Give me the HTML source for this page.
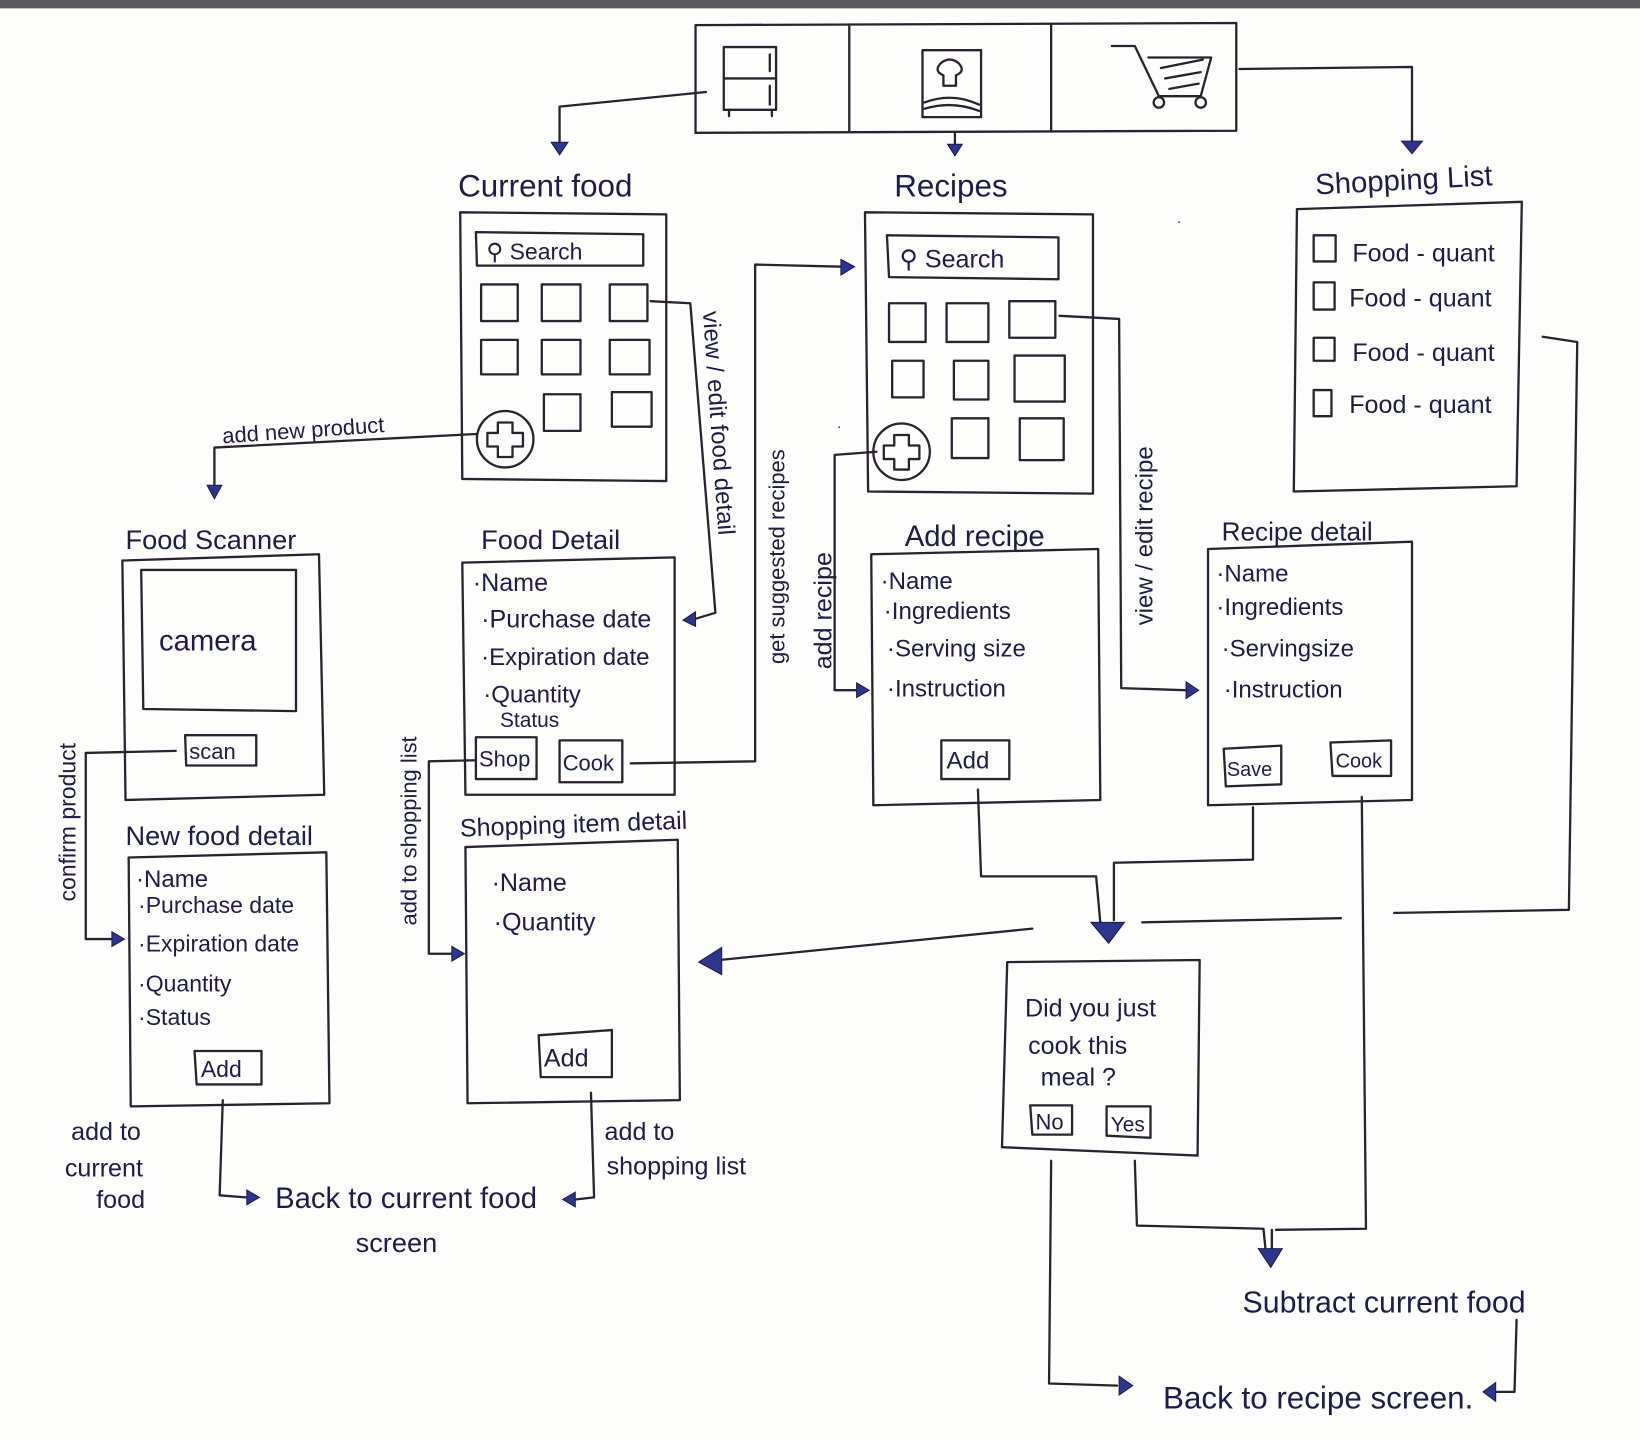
<!DOCTYPE html>
<html><head><meta charset="utf-8"><style>
html,body{margin:0;padding:0;background:#fdfdfb;}
svg{display:block}
text{font-family:"Liberation Sans",sans-serif;fill:#1c1c4e;}
.l{fill:none;stroke:#2a2230;stroke-width:2.2;stroke-linecap:round;stroke-linejoin:round}
.a{fill:#2b3590;stroke:#1c1c4e;stroke-width:1}
</style></head><body>
<svg width="1640" height="1440" viewBox="0 0 1568 1377" preserveAspectRatio="none" xmlns="http://www.w3.org/2000/svg">
<rect x="0" y="0" width="1568" height="1377" fill="#fdfdfb"/>
<rect x="0" y="0" width="1568" height="8" fill="#5a5a5e"/>

<!-- tab bar -->
<path class="l" d="M665 24 L1182 22 L1182 125 L665 127 Z M812 24 L812 126 M1005 23 L1005 125"/>
<path class="l" d="M692 45 H742 V105 H692 Z M692 75 H742 M736 52 V68 M736 82 V100 M697 105 v6 M738 105 v6"/>
<path class="l" d="M882 48 H938 V112 H882 Z M884 98 Q910 88 936 100 M884 104 Q910 96 936 106 M900 60 q-8 8 2 12 v10 h12 v-10 q10 -4 2 -12 q-8 -6 -16 0"/>
<path class="l" d="M1063 44 H1085 L1108 92 H1148 L1158 55 H1098 M1110 65 l40 -8 M1114 75 l34 -6 M1118 85 l28 -5"/>
<circle class="l" cx="1108" cy="98" r="5"/><circle class="l" cx="1148" cy="98" r="5"/>

<!-- top arrows -->
<path class="l" d="M675 88 L535 102 L535 138"/><path class="a" d="M527 136 L543 136 L535 148Z"/>
<path class="l" d="M913 127 L913 140"/><path class="a" d="M906 138 L920 138 L913 149Z"/>
<path class="l" d="M1185 66 L1350 64 L1350 136"/><path class="a" d="M1340 135 L1360 135 L1350 147Z"/>

<!-- Current food -->
<text x="438" y="188" font-size="30">Current food</text>
<path class="l" d="M440 203 L637 205 L637 460 L442 458 Z"/>
<path class="l" d="M455 222 L615 224 L615 254 L456 254 Z"/>
<text x="465" y="248" font-size="22">⚲ Search</text>
<g class="l">
<rect x="460" y="272" width="35" height="35"/><rect x="518" y="272" width="37" height="35"/><rect x="583" y="272" width="36" height="35"/>
<rect x="460" y="325" width="35" height="33"/><rect x="518" y="325" width="37" height="33"/><rect x="583" y="325" width="38" height="33"/>
<rect x="520" y="377" width="35" height="35"/><rect x="585" y="375" width="38" height="33"/>
</g>
<circle class="l" cx="483" cy="420" r="27"/>
<path class="l" d="M476 404 h14 v10 h10 v13 h-10 v10 h-14 v-10 h-10 v-13 h10 Z"/>

<!-- Recipes -->
<text x="855" y="188" font-size="30">Recipes</text>
<path class="l" d="M827 203 L1045 205 L1045 472 L830 470 Z"/>
<path class="l" d="M848 225 L1012 227 L1012 267 L850 265 Z"/>
<text x="860" y="256" font-size="24">⚲ Search</text>
<g class="l">
<rect x="850" y="290" width="35" height="37"/><rect x="905" y="290" width="40" height="37"/><rect x="965" y="288" width="44" height="35"/>
<rect x="853" y="345" width="30" height="35"/><rect x="912" y="345" width="33" height="37"/><rect x="970" y="340" width="48" height="44"/>
<rect x="910" y="400" width="35" height="38"/><rect x="975" y="400" width="42" height="40"/>
</g>
<circle class="l" cx="862" cy="432" r="27"/>
<path class="l" d="M855 416 h14 v10 h10 v13 h-10 v10 h-14 v-10 h-10 v-13 h10 Z"/>

<!-- Shopping list -->
<text x="1258" y="186" font-size="28" transform="rotate(-3 1258 186)">Shopping List</text>
<path class="l" d="M1240 200 L1455 193 L1450 465 L1237 470 Z"/>
<g class="l"><rect x="1256" y="225" width="21" height="25"/><rect x="1256" y="270" width="20" height="26"/><rect x="1256" y="323" width="20" height="22"/><rect x="1256" y="373" width="17" height="25"/></g>
<text x="1293" y="250" font-size="24">Food - quant</text>
<text x="1290" y="293" font-size="24">Food - quant</text>
<text x="1293" y="345" font-size="24">Food - quant</text>
<text x="1290" y="395" font-size="24">Food - quant</text>

<!-- add new product -->
<text x="213" y="424" font-size="21" transform="rotate(-4 213 424)">add new product</text>
<path class="l" d="M455 415 L205 428 L205 465"/><path class="a" d="M198 464 L212 464 L205 477Z"/>

<!-- Food scanner -->
<text x="120" y="525" font-size="26">Food Scanner</text>
<path class="l" d="M117 536 L305 530 L310 760 L120 765 Z"/>
<path class="l" d="M135 545 L283 545 L283 680 L137 678 Z"/>
<text x="152" y="622" font-size="28">camera</text>
<path class="l" d="M177 703 L245 703 L245 732 L178 732 Z"/>
<text x="181" y="726" font-size="21">scan</text>

<!-- Food detail -->
<text x="460" y="525" font-size="26">Food  Detail</text>
<path class="l" d="M442 538 L645 533 L645 760 L445 760 Z"/>
<text x="452" y="565" font-size="24">·Name</text>
<text x="460" y="600" font-size="24">·Purchase date</text>
<text x="460" y="636" font-size="23">·Expiration date</text>
<text x="462" y="672" font-size="23">·Quantity</text>
<text x="478" y="695" font-size="20">Status</text>
<path class="l" d="M455 705 L513 705 L513 745 L455 745 Z M535 708 L595 708 L595 748 L535 748 Z"/>
<text x="458" y="733" font-size="21">Shop</text>
<text x="538" y="737" font-size="21">Cook</text>

<!-- view/edit food detail -->
<text x="672" y="298" font-size="23" transform="rotate(86 672 298)">view / edit food detail</text>
<path class="l" d="M622 288 L660 290 L684 586 L664 592"/><path class="a" d="M665 585 L665 599 L653 593Z"/>

<!-- get suggested recipes -->
<text x="750" y="635" font-size="21" transform="rotate(-90 750 635)">get suggested recipes</text>
<path class="l" d="M603 730 L722 728 L722 253 L805 255"/><path class="a" d="M804 248 L804 263 L817 255Z"/>

<!-- Add recipe -->
<text x="865" y="522" font-size="28">Add recipe</text>
<path class="l" d="M833 530 L1050 525 L1052 765 L835 770 Z"/>
<text x="842" y="563" font-size="23">·Name</text>
<text x="845" y="592" font-size="23">·Ingredients</text>
<text x="848" y="628" font-size="23">·Serving size</text>
<text x="848" y="666" font-size="23">·Instruction</text>
<path class="l" d="M900 708 L965 708 L965 745 L900 745 Z"/>
<text x="905" y="735" font-size="23">Add</text>

<!-- add recipe rotated -->
<text x="795" y="640" font-size="24" transform="rotate(-90 795 640)">add recipe</text>
<path class="l" d="M838 432 L798 435 L798 660 L820 660"/><path class="a" d="M819 653 L819 667 L831 660Z"/>

<!-- view/edit recipe -->
<text x="1102" y="598" font-size="23" transform="rotate(-90 1102 598)">view / edit recipe</text>
<path class="l" d="M1013 302 L1070 305 L1072 658 L1133 660"/><path class="a" d="M1134 652 L1134 668 L1146 660Z"/>

<!-- Recipe detail -->
<text x="1168" y="517" font-size="25">Recipe detail</text>
<path class="l" d="M1155 525 L1350 518 L1350 765 L1155 770 Z"/>
<text x="1163" y="556" font-size="23">·Name</text>
<text x="1163" y="588" font-size="23">·Ingredients</text>
<text x="1168" y="628" font-size="23">·Servingsize</text>
<text x="1170" y="667" font-size="23">·Instruction</text>
<path class="l" d="M1170 716 L1225 713 L1225 750 L1172 752 Z M1272 710 L1330 708 L1330 742 L1274 742 Z"/>
<text x="1173" y="742" font-size="19">Save</text>
<text x="1277" y="734" font-size="19">Cook</text>

<!-- shopping list -> line -->
<path class="l" d="M1475 322 L1508 327 L1500 870 L1333 873"/>

<!-- confirm product -->
<text x="72" y="862" font-size="22" transform="rotate(-90 72 862)">confirm product</text>
<path class="l" d="M168 718 L82 720 L82 898 L108 898"/><path class="a" d="M107 891 L107 905 L119 898Z"/>

<!-- New food detail -->
<text x="120" y="808" font-size="26">New food detail</text>
<path class="l" d="M123 820 L312 815 L315 1055 L125 1058 Z"/>
<text x="130" y="848" font-size="23">·Name</text>
<text x="132" y="873" font-size="22">·Purchase date</text>
<text x="132" y="910" font-size="22">·Expiration date</text>
<text x="132" y="948" font-size="22">·Quantity</text>
<text x="132" y="980" font-size="22">·Status</text>
<path class="l" d="M186 1005 L250 1005 L250 1037 L188 1037 Z"/>
<text x="192" y="1030" font-size="22">Add</text>

<!-- add to shopping list rotated -->
<text x="398" y="885" font-size="21" transform="rotate(-90 398 885)">add to shopping list</text>
<path class="l" d="M455 727 L410 728 L410 912 L433 912"/><path class="a" d="M432 905 L432 919 L444 912Z"/>

<!-- Shopping item detail -->
<text x="440" y="800" font-size="24" transform="rotate(-2 440 800)">Shopping item detail</text>
<path class="l" d="M445 810 L648 803 L650 1052 L447 1055 Z"/>
<text x="470" y="852" font-size="24">·Name</text>
<text x="472" y="890" font-size="24">·Quantity</text>
<path class="l" d="M515 990 L585 985 L585 1030 L517 1030 Z"/>
<text x="520" y="1020" font-size="24">Add</text>

<!-- arrow to shopping item detail -->
<path class="l" d="M987 888 L688 918"/><path class="a" d="M690 906 L690 932 L668 920Z"/>

<!-- recipe flows to dialog -->
<path class="l" d="M935 755 L938 838 L1048 838 L1052 882"/>
<path class="l" d="M1198 772 L1198 822 L1065 825 L1065 880"/>
<path class="a" d="M1043 882 L1075 882 L1060 902Z"/>
<path class="l" d="M1092 882 L1282 878"/>

<!-- dialog -->
<path class="l" d="M963 920 L1147 918 L1145 1105 L958 1097 Z"/>
<text x="980" y="972" font-size="24">Did you just</text>
<text x="983" y="1008" font-size="24">cook this</text>
<text x="995" y="1038" font-size="24">meal ?</text>
<path class="l" d="M985 1057 L1025 1057 L1025 1085 L987 1085 Z M1058 1058 L1100 1058 L1100 1088 L1058 1086 Z"/>
<text x="990" y="1080" font-size="21">No</text>
<text x="1062" y="1082" font-size="20">Yes</text>

<!-- to subtract -->
<path class="l" d="M1302 762 L1306 1175 L1220 1176 M1085 1110 L1087 1172 L1208 1175 L1210 1195 M1216 1176 L1216 1195"/>
<path class="a" d="M1203 1194 L1226 1194 L1215 1212Z"/>
<text x="1188" y="1255" font-size="29">Subtract current food</text>

<path class="l" d="M1005 1110 L1003 1323 L1068 1325"/><path class="a" d="M1070 1316 L1070 1334 L1083 1325Z"/>
<text x="1112" y="1347" font-size="30">Back to recipe screen.</text>
<path class="l" d="M1450 1262 L1448 1331 L1428 1331"/><path class="a" d="M1430 1322 L1430 1340 L1418 1331Z"/>

<!-- bottom left -->
<text x="68" y="1090" font-size="24">add to</text>
<text x="62" y="1125" font-size="24">current</text>
<text x="92" y="1155" font-size="24">food</text>
<path class="l" d="M213 1052 L210 1143 L235 1145"/><path class="a" d="M236 1138 L236 1152 L248 1145Z"/>
<text x="263" y="1155" font-size="28">Back to current food</text>
<text x="340" y="1197" font-size="26">screen</text>
<path class="l" d="M565 1045 L568 1145 L550 1147"/><path class="a" d="M550 1140 L550 1154 L538 1147Z"/>
<text x="578" y="1090" font-size="24">add to</text>
<text x="580" y="1123" font-size="24">shopping list</text>
<text x="800" y="412" font-size="14">·</text>
<text x="1125" y="216" font-size="14">·</text>
</svg>
</body></html>
